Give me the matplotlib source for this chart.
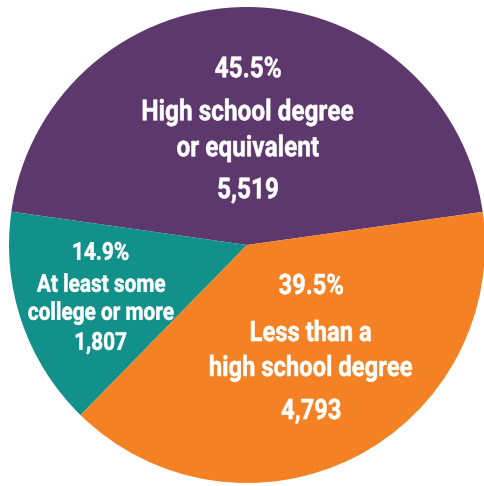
import matplotlib.pyplot as plt
from matplotlib.font_manager import FontProperties
from matplotlib.textpath import TextPath
from matplotlib.patches import PathPatch
from matplotlib.transforms import Affine2D

labels = ["High school degree\nor equivalent", "At least some\ncollege or more", "Less than a\nhigh school degree"]
counts = [5519, 1807, 4793]
shares = ["45.5%", "14.9%", "39.5%"]
colors = ["#5d386c", "#12908a", "#f48123"]

W, H = 484, 486
fig = plt.figure(figsize=(W / 100, H / 100), dpi=100)
ax = fig.add_axes([0, 0, 1, 1])

cx, cy, r = 247, H - 245, 238
ax.pie(counts, colors=colors, startangle=8.0, counterclock=True,
       center=(cx, cy), radius=r, wedgeprops=dict(linewidth=0),
       frame=True)
ax.set_xlim(0, W)
ax.set_ylim(0, H)
ax.set_aspect("equal")
ax.axis("off")

prop = FontProperties(family="Roboto", weight="bold")
CAP = 0.711  # Roboto cap height per em

# squeeze factor so the face reads like a condensed bold
ref = TextPath((0, 0), "High school degree", size=20 / CAP, prop=prop)
SQUEEZE = 205 / ref.get_extents().width


def put(x, y, s, cap):
    # x, y: centre of the line's cap height, pixels from top-left
    tp = TextPath((0, 0), s, size=cap / CAP, prop=prop)
    box = tp.get_extents()
    tr = (Affine2D().translate(-(box.x0 + box.x1) / 2, 0)
          .scale(SQUEEZE, 1).translate(x, H - y - cap / 2))
    ax.add_patch(PathPatch(tr.transform_path(tp), facecolor="white",
                           edgecolor="white", lw=0.4))


def block(x, ys, lines, cap):
    for y, s in zip(ys, lines):
        put(x, y, s, cap)


block(248, [67, 110, 146, 188],
      [shares[0]] + labels[0].split("\n") + ["{:,}".format(counts[0])], 20.5)
block(101, [251, 283, 311, 341],
      [shares[1]] + labels[1].split("\n") + ["{:,}".format(counts[1])], 17.5)
block(311, [284, 331, 366, 409],
      [shares[2]] + labels[2].split("\n") + ["{:,}".format(counts[2])], 20)

fig.savefig("out.png", dpi=100)
